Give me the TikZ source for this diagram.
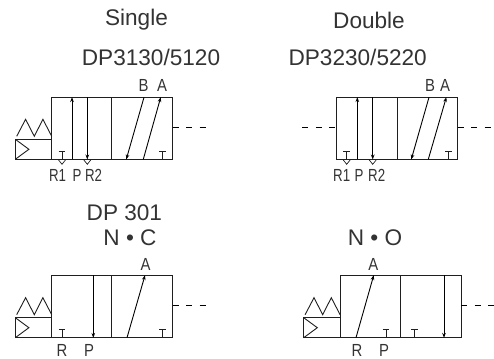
\documentclass[tikz,border=0pt]{standalone}
\usepackage{fontspec}
\usepackage{graphicx}
\setmainfont{Liberation Sans}
\usetikzlibrary{arrows.meta}
\tikzset{
  line/.style={line width=0.9pt,color=black!88},
  flow/.style={line width=0.9pt,color=black,-{Stealth[length=5pt,width=3.6pt]},shorten >=-0.2pt},
  title/.style={inner sep=0pt,font=\fontsize{22.6}{22.6}\selectfont,color=black!80},
  lab/.style={inner sep=0pt,font=\fontsize{17.5}{17.5}\selectfont,color=black!80},
  dsh/.style={line width=0.9pt,dash pattern=on 6pt off 7.5pt,color=black}
}
\newcommand{\nar}[1]{\scalebox{0.76}[1]{#1}}
\newcommand{\narr}[1]{\scalebox{0.85}[1]{#1}}
\newcommand{\drawT}[3]{\draw[line] (#1,#2) -- (#1,#2-8.3) (#1-3.3,#2-8.3) -- (#1+3.3,#2-8.3);}
\newcommand{\drawV}[2]{\draw[line,line width=0.7pt] (#1-4,#2) -- (#1,#2+5) -- (#1+4,#2);}
\newcommand{\drawSol}[3]{%
  \draw[line] (#1,#3-20) rectangle (#1+36.4,#3);
  \draw[line] (#1,#3-20) -- (#1+13.6,#3-10) -- (#1,#3);
  \draw[line] (#1+1.4,#3-23) -- (#1+10.3,#3-40) -- (#1+19,#3-23) -- (#1+27.6,#3-40) -- (#1+36.4,#3-23);}
\begin{document}
\begin{tikzpicture}[x=1pt,y=-1pt]
\useasboundingbox (0,0) rectangle (494,358);
% texts
\node[title] (t1) at (136.5,20) {Single};
\node[title] (t2) at (369,20) {Double};
\node[title] (t3) at (151,57) {DP3130/5120};
\node[title] (t4) at (357.7,57) {DP3230/5220};
\node[title] (t5) at (124.4,212.5) {DP 301};
\node[title] (t6) at (130,238) {N • C};
\node[title] (t7) at (375,238) {N • O};
% valve 1
\drawSol{15.3}{0}{159.3}
\draw[line] (51.7,97.3) rectangle (172.7,159.3);
\draw[line] (111.7,97.3) -- (111.7,159.3);
\draw[flow] (72,159.3) -- (72,97.3);
\draw[flow] (87.3,97.3) -- (87.3,159.3);
\draw[flow] (144,97.3) -- (126.3,159.3);
\draw[flow] (143.3,159.3) -- (160.7,97.3);
\drawT{62}{159.3}{}\drawT{162.7}{159.3}{}
\drawV{62}{159.3}\drawV{87.3}{159.3}
\draw[dsh] (172.7,127.3) -- (206,127.3);
\node[lab] (b1) at (143.5,85.5) {\narr{B}};
\node[lab] (a1) at (162,85.5) {\narr{A}};
\node[lab] (r1) at (57.5,175.5) {\nar{R1}};
\node[lab] (p1) at (77,175.5) {\nar{P}};
\node[lab] (s1) at (93.5,175.5) {\nar{R2}};
% valve 2
\draw[line] (336.7,97.3) rectangle (457.7,159.3);
\draw[line] (397,97.3) -- (397,159.3);
\draw[flow] (357.3,159.3) -- (357.3,97.3);
\draw[flow] (372.7,97.3) -- (372.7,159.3);
\draw[flow] (429,97.3) -- (411.3,159.3);
\draw[flow] (428.3,159.3) -- (446.3,97.3);
\drawT{346.7}{159.3}{}\drawT{448.3}{159.3}{}
\drawV{346.7}{159.3}\drawV{372.7}{159.3}
\draw[dsh] (302.3,127.3) -- (336.7,127.3);
\draw[dsh] (457.7,127.3) -- (491.7,127.3);
\node[lab] (b2) at (430,85.5) {\narr{B}};
\node[lab] (a2) at (445,85.5) {\narr{A}};
\node[lab] (r2) at (341.7,175.5) {\nar{R1}};
\node[lab] (p2) at (359,175.5) {\nar{P}};
\node[lab] (s2) at (376.7,175.5) {\nar{R2}};
% valve 3
\drawSol{15.3}{0}{337.7}
\draw[line] (51.7,275.3) rectangle (172.7,337.7);
\draw[line] (111.7,275.3) -- (111.7,337.7);
\draw[flow] (93.3,275.3) -- (93.3,337.7);
\draw[flow] (127,337.7) -- (145,275.3);
\drawT{62}{337.7}{}\drawT{162.7}{337.7}{}
\draw[dsh] (172.7,305.3) -- (206,305.3);
\node[lab] (a3) at (145.7,264) {\narr{A}};
\node[lab] (r3) at (62,350.5) {\narr{R}};
\node[lab] (p3) at (89,350.5) {\narr{P}};
% valve 4
\drawSol{303.7}{0}{337.7}
\draw[line] (340.3,275.3) rectangle (461,337.7);
\draw[line] (400.3,275.3) -- (400.3,337.7);
\draw[flow] (444,275.3) -- (444,337.7);
\draw[flow] (356,337.7) -- (373.7,275.3);
\drawT{386}{337.7}{}\drawT{414.3}{337.7}{}
\draw[dsh] (461,305.3) -- (494,305.3);
\node[lab] (a4) at (373.3,264) {\narr{A}};
\node[lab] (r4) at (357,350.5) {\narr{R}};
\node[lab] (p4) at (384,350.5) {\narr{P}};
\end{tikzpicture}
\end{document}
